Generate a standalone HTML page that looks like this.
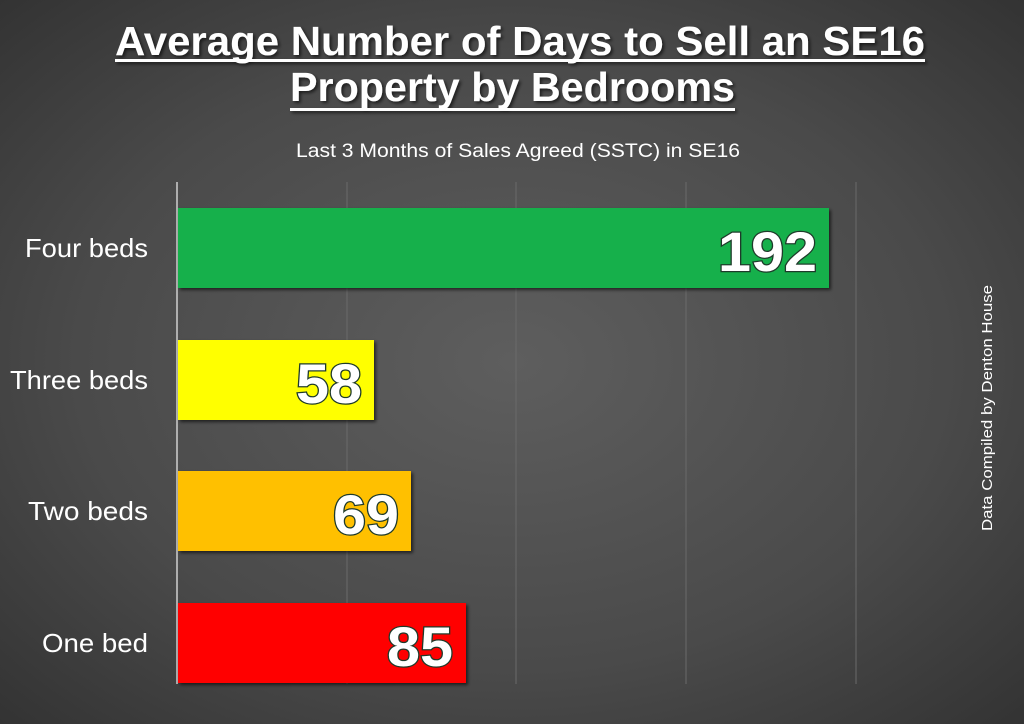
<!DOCTYPE html>
<html><head><style>
html,body{margin:0;padding:0;}
body{width:1024px;height:724px;overflow:hidden;background:radial-gradient(ellipse at 50% 50%,#5e5e5e 0%,#4a4a4a 60%,#333 100%);}
svg{display:block;font-family:"Liberation Sans",sans-serif;}
</style></head><body>
<svg width="1024" height="724" viewBox="0 0 1024 724">
<defs><filter id="sh"><feDropShadow dx="2" dy="2" stdDeviation="1.5" flood-color="#000" flood-opacity="0.6"/></filter></defs>
<g fill="#fff" font-weight="bold" filter="url(#sh)">
<text x="115" y="55" font-size="41" textLength="810" lengthAdjust="spacingAndGlyphs">Average Number of Days to Sell an SE16</text>
<rect x="115" y="59" width="810" height="3"/>
<text x="290" y="101" font-size="41" textLength="445" lengthAdjust="spacingAndGlyphs">Property by Bedrooms</text>
<rect x="290" y="108" width="445" height="3"/>
</g>
<text x="296" y="157" font-size="19" fill="#fff" textLength="444" lengthAdjust="spacingAndGlyphs">Last 3 Months of Sales Agreed (SSTC) in SE16</text>
<g stroke="#6a6a6a" stroke-width="1">
<line x1="347" y1="182" x2="347" y2="684"/><line x1="516" y1="182" x2="516" y2="684"/>
<line x1="686" y1="182" x2="686" y2="684"/><line x1="856" y1="182" x2="856" y2="684"/>
</g>
<line x1="177" y1="182" x2="177" y2="684" stroke="#cfcfcf" stroke-width="1.5"/>
<g filter="url(#sh)">
<rect x="178" y="208" width="651" height="80" fill="#12b04c"/>
<rect x="178" y="340" width="196" height="80" fill="#ffff00"/>
<rect x="178" y="471" width="233" height="80" fill="#ffc000"/>
<rect x="178" y="603" width="288" height="80" fill="#ff0000"/>
</g>
<g font-size="26" fill="#fff" text-anchor="end">
<text x="148" y="257" textLength="123" lengthAdjust="spacingAndGlyphs">Four beds</text>
<text x="148" y="389" textLength="138" lengthAdjust="spacingAndGlyphs">Three beds</text>
<text x="148" y="520" textLength="120" lengthAdjust="spacingAndGlyphs">Two beds</text>
<text x="148" y="652" textLength="106" lengthAdjust="spacingAndGlyphs">One bed</text>
</g>
<g font-size="56" font-weight="bold" fill="#fff" stroke="#1e3a2a" stroke-width="2.5" paint-order="stroke" text-anchor="end">
<text x="817" y="271" textLength="99" lengthAdjust="spacingAndGlyphs">192</text>
<text x="362" y="403" textLength="66" lengthAdjust="spacingAndGlyphs">58</text>
<text x="399" y="534" textLength="66" lengthAdjust="spacingAndGlyphs">69</text>
<text x="453" y="666" textLength="66" lengthAdjust="spacingAndGlyphs">85</text>
</g>
<text transform="translate(992,531) rotate(-90)" font-size="15" fill="#fff" textLength="246" lengthAdjust="spacingAndGlyphs">Data Compiled by Denton House</text>
</svg>
</body></html>
